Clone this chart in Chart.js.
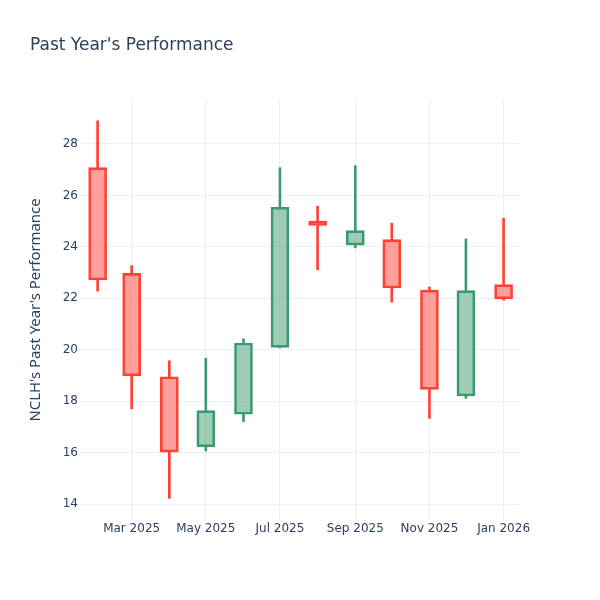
<!DOCTYPE html>
<html>
<head>
<meta charset="utf-8">
<script src="https://cdn.jsdelivr.net/npm/chart.js@4.4.1/dist/chart.umd.min.js"></script>
<style>
  html, body { margin: 0; padding: 0; background: #fff; }
  #wrap { width: 600px; height: 600px; }
</style>
</head>
<body>
<div id="wrap"><canvas id="c" width="600" height="600"></canvas></div>
<script>
// ---- data ----
const dates  = ['2025-02-01','2025-03-01','2025-04-01','2025-05-01','2025-06-01','2025-07-01',
                '2025-08-01','2025-09-01','2025-10-01','2025-11-01','2025-12-01','2026-01-01'];
const opens  = [27.08, 22.97, 18.95, 16.22, 17.49, 20.09, 25.00, 24.07, 24.28, 22.32, 18.20, 22.53];
const highs  = [28.90, 23.27, 19.57, 19.67, 20.42, 27.08, 25.58, 27.16, 24.92, 22.44, 24.31, 25.11];
const lows   = [22.28, 17.70, 14.22, 16.06, 17.20, 20.07, 23.11, 23.96, 21.85, 17.33, 18.11, 21.93];
const closes = [22.71, 18.98, 16.02, 17.63, 20.26, 25.54, 24.83, 24.63, 22.40, 18.46, 22.30, 21.98];
const xTickDates  = ['2025-03-01','2025-05-01','2025-07-01','2025-09-01','2025-11-01','2026-01-01'];
const xTickLabels = ['Mar 2025','May 2025','Jul 2025','Sep 2025','Nov 2025','Jan 2026'];
const yTicks = [14, 16, 18, 20, 22, 24, 26, 28];

// ---- helpers ----
const base = Date.parse('2025-01-01');
const dayOf = s => (Date.parse(s) - base) / 86400000;
const xs = dates.map(dayOf);
const xTickVals = xTickDates.map(dayOf);

const INC_LINE = '#3D9970', INC_FILL = 'rgba(61,153,112,0.5)';
const DEC_LINE = '#FF4136', DEC_FILL = 'rgba(255,65,54,0.5)';
const isUp = opens.map((o, i) => closes[i] >= o);
const lineCols = isUp.map(u => u ? INC_LINE : DEC_LINE);
const fillCols = isUp.map(u => u ? INC_FILL : DEC_FILL);

const bodies = xs.map((x, i) => ({ x, y: [opens[i], closes[i]] }));
const upperWicks = xs.map((x, i) => ({ x, y: [Math.max(opens[i], closes[i]), highs[i]] }));
const lowerWicks = xs.map((x, i) => ({ x, y: [lows[i], Math.min(opens[i], closes[i])] }));

const FONT = '"DejaVu Sans", sans-serif';
const FONT_YT = '"Noto Sans", "Open Sans", sans-serif';
const TXT = '#2a3f5f';
const GRID = '#EBF0F8';

new Chart(document.getElementById('c'), {
  type: 'bar',
  data: {
    datasets: [
      { data: upperWicks, backgroundColor: lineCols, borderWidth: 0, barThickness: 2, grouped: false, order: 2 },
      { data: lowerWicks, backgroundColor: lineCols, borderWidth: 0, barThickness: 2, grouped: false, order: 2 },
      { data: bodies, backgroundColor: fillCols, borderColor: lineCols, borderWidth: 2,
        borderSkipped: false, barThickness: 18, grouped: false, order: 1 }
    ]
  },
  options: {
    responsive: false,
    animation: false,
    devicePixelRatio: 1,
    layout: { padding: { left: 30, right: 80, top: 0, bottom: 0 } },
    plugins: {
      legend: { display: false },
      tooltip: { enabled: false },
      title: {
        display: true,
        text: "Past Year's Performance",
        align: 'start',
        color: TXT,
        font: { family: FONT, size: 17, weight: 'normal', lineHeight: 1.2 },
        padding: { top: 35, bottom: 44.6 }
      }
    },
    scales: {
      x: {
        type: 'linear',
        min: 16.5,
        max: 378.5,
        offset: false,
        grid: { color: GRID, lineWidth: 1, drawTicks: false, offset: false },
        border: { display: false },
        afterBuildTicks: s => { s.ticks = xTickVals.map(v => ({ value: v })); },
        afterFit: s => { s.height = 80; },
        ticks: {
          autoSkip: false, maxRotation: 0, padding: 2, color: TXT,
          font: { family: FONT, size: 12 },
          callback: v => { const k = xTickVals.indexOf(v); return k >= 0 ? xTickLabels[k] : ''; }
        }
      },
      y: {
        type: 'linear',
        min: 13.378,
        max: 29.711,
        grid: { color: GRID, lineWidth: 1, drawTicks: false },
        border: { display: false },
        afterBuildTicks: s => { s.ticks = yTicks.map(v => ({ value: v })); },
        afterFit: s => { s.width = 50; },
        ticks: { padding: 2, color: TXT, font: { family: FONT, size: 12 } },
        title: {
          display: true,
          text: "NCLH's Past Year's Performance",
          color: TXT,
          font: { family: FONT_YT, size: 14.9, lineHeight: 1.2 },
          padding: { top: -3.5, bottom: 0 }
        }
      }
    }
  }
});
</script>
</body>
</html>
